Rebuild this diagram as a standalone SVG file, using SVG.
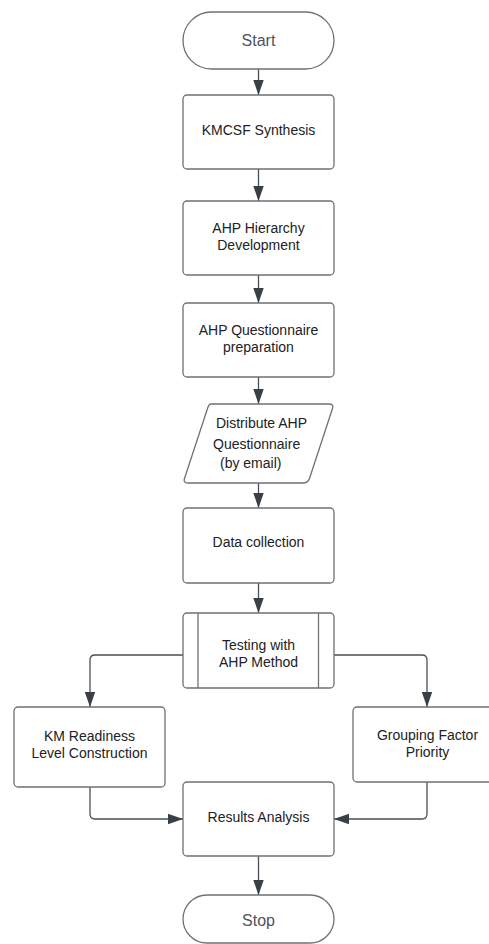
<svg xmlns="http://www.w3.org/2000/svg" width="489" height="944" viewBox="0 0 489 944">
  <style>
    .shape { fill: #ffffff; stroke: #6e7176; stroke-width: 1.3; }
    .label { font-family: "Liberation Sans", Arial, sans-serif; font-size: 14px; fill: #222222; text-anchor: middle; }
    .term { font-family: "Liberation Sans", Arial, sans-serif; font-size: 16px; fill: #50535a; text-anchor: middle; }
    .link { fill: none; stroke: #4a4f57; stroke-width: 1.3; }
  </style>
  <defs>
    <marker id="arrow" viewBox="0 0 15 12" refX="15" refY="6" markerWidth="15" markerHeight="12" markerUnits="userSpaceOnUse" orient="auto">
      <path d="M0,0.8 L15,6 L0,11.2 Z" fill="#3a3f47"/>
    </marker>
  </defs>
  <rect width="489" height="944" fill="#ffffff"/>

  <g id="connectors">
    <path class="link" d="M258.5,69 V95" marker-end="url(#arrow)"/>
    <path class="link" d="M258.5,169 V201" marker-end="url(#arrow)"/>
    <path class="link" d="M258.5,275 V303" marker-end="url(#arrow)"/>
    <path class="link" d="M258.5,377 V404" marker-end="url(#arrow)"/>
    <path class="link" d="M258.5,483 V508" marker-end="url(#arrow)"/>
    <path class="link" d="M258.5,583 V613" marker-end="url(#arrow)"/>
    <path class="link" d="M183,655 H95 Q90,655 90,660 V707" marker-end="url(#arrow)"/>
    <path class="link" d="M334,655 H422 Q427,655 427,660 V707" marker-end="url(#arrow)"/>
    <path class="link" d="M90,787 V814 Q90,819 95,819 H183" marker-end="url(#arrow)"/>
    <path class="link" d="M427,782 V814 Q427,819 422,819 H334" marker-end="url(#arrow)"/>
    <path class="link" d="M258.5,856 V895" marker-end="url(#arrow)"/>
  </g>

  <g id="start">
    <rect class="shape" x="183" y="12" width="151" height="57" rx="28.5"/>
    <text class="term" x="258.5" y="46">Start</text>
  </g>

  <g id="kmcsf-synthesis">
    <rect class="shape" x="183" y="95" width="151" height="74" rx="4"/>
    <text class="label" x="258.5" y="135">KMCSF Synthesis</text>
  </g>

  <g id="ahp-hierarchy">
    <rect class="shape" x="183" y="201" width="151" height="74" rx="4"/>
    <text class="label" x="258.5" y="233">AHP Hierarchy</text>
    <text class="label" x="258.5" y="250">Development</text>
  </g>

  <g id="ahp-questionnaire">
    <rect class="shape" x="183" y="303" width="151" height="74" rx="4"/>
    <text class="label" x="258.5" y="335">AHP Questionnaire</text>
    <text class="label" x="258.5" y="352">preparation</text>
  </g>

  <g id="distribute">
    <path class="shape" d="M211,404 H329 Q334,404 332.5,408.5 L309.5,478.5 Q308,483 303,483 H188 Q183,483 184.5,478.5 L207.5,408.5 Q209,404 211,404 Z"/>
    <text class="label" x="216" y="428" style="text-anchor:start">Distribute AHP</text>
    <text class="label" x="213" y="449" style="text-anchor:start">Questionnaire</text>
    <text class="label" x="220" y="468" style="text-anchor:start">(by email)</text>
  </g>

  <g id="data-collection">
    <rect class="shape" x="183" y="508" width="151" height="75" rx="4"/>
    <text class="label" x="258.5" y="547">Data collection</text>
  </g>

  <g id="testing">
    <rect class="shape" x="183" y="613" width="151" height="75" rx="4"/>
    <line class="shape" x1="198" y1="613" x2="198" y2="688"/>
    <line class="shape" x1="318.5" y1="613" x2="318.5" y2="688"/>
    <text class="label" x="258.5" y="650">Testing with</text>
    <text class="label" x="258.5" y="667">AHP Method</text>
  </g>

  <g id="km-readiness">
    <rect class="shape" x="14" y="707" width="151" height="80" rx="4"/>
    <text class="label" x="89.5" y="741">KM Readiness</text>
    <text class="label" x="89.5" y="758">Level Construction</text>
  </g>

  <g id="grouping-priority">
    <rect class="shape" x="353" y="707" width="151" height="75" rx="4"/>
    <text class="label" x="427.5" y="740">Grouping Factor</text>
    <text class="label" x="427.5" y="757">Priority</text>
  </g>

  <g id="results-analysis">
    <rect class="shape" x="183" y="782" width="151" height="74" rx="4"/>
    <text class="label" x="258.5" y="822">Results Analysis</text>
  </g>

  <g id="stop">
    <rect class="shape" x="183" y="895" width="151" height="48" rx="24"/>
    <text class="term" x="258.5" y="926">Stop</text>
  </g>
</svg>
